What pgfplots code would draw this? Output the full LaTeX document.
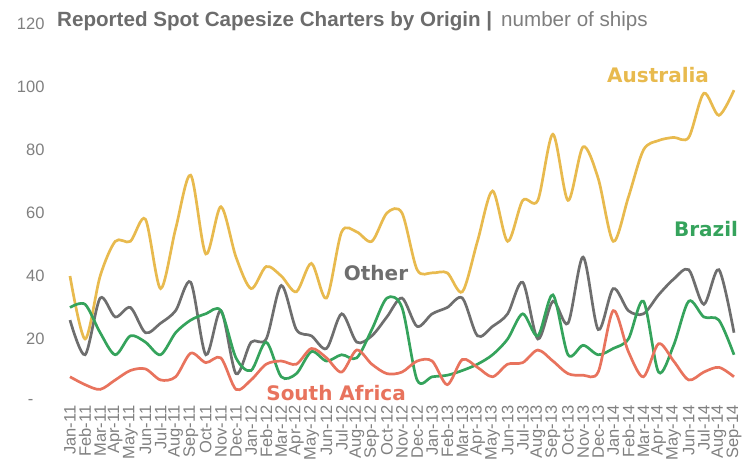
\documentclass[border=0pt]{standalone}
\usepackage{pgfplots}
\usepackage{pgfplotstable}
\pgfplotsset{compat=1.18}
\usepackage{fontspec}
\setmainfont{Liberation Sans}
\newfontfamily\serieslabelfont{DejaVu Sans}

\definecolor{aus}{HTML}{E8BA4E}
\definecolor{bra}{HTML}{35A35C}
\definecolor{oth}{HTML}{6E6E6E}
\definecolor{saf}{HTML}{E8735D}
\definecolor{titlegray}{HTML}{6C6C6C}
\definecolor{subgray}{HTML}{7E7E7E}
\definecolor{tickgray}{HTML}{808080}

% monthly counts, Jan-11 (k=0) to Sep-14 (k=44)
\pgfplotstableread{
k  aus  bra  oth  saf
0  40   30   26   8
1  20   31   15   5.5
2  40   22   33   4
3  51   15   27   7
4  51   21   30   10
5  58   19   22   10.5
6  36   15   25   7
7  55   22   29   8
8  72   26   38   15.5
9  47   28   15   12.5
10 62   29   29   14
11 46   14   9    4
12 36   10   19   7
13 43   19   20   12
14 40   8    37   13
15 35   9    23   12
16 44   16   21   17
17 33   13   17   14
18 54   15   28   9.5
19 54   14   19   16.5
20 51   23   21   12
21 60   33   27   9
22 60   30   33   9.5
23 42   7    24   13
24 41   8    28   13
25 41   8.5  30   5.5
26 35   10   33   13.5
27 51   12   21   11
28 67   15   24   8
29 51   20   28   12
30 64   28   38   12.5
31 64   21   20   16.5
32 85   34   32   13
33 64   15   25   9
34 81   18   46   8.5
35 71   15   23   9.5
36 51   17   36   29
37 65   20   29   16
38 80   32   28   8
39 83   9.5  34   18.5
40 84   18   39   13
41 84   32   42   7
42 98   27   31   9.5
43 91   26   42   11
44 99   15   22   8
}\charters

\begin{document}
\begin{tikzpicture}
\begin{axis}[
  scale only axis,
  width=664pt, height=378pt,
  xmin=0, xmax=44, ymin=0, ymax=120,
  enlargelimits=false,
  clip=false,
  axis line style={draw=none},
  major tick length=0pt,
  xtick={0,...,44},
  xticklabels={Jan-11,Feb-11,Mar-11,Apr-11,May-11,Jun-11,Jul-11,Aug-11,Sep-11,Oct-11,Nov-11,Dec-11,
    Jan-12,Feb-12,Mar-12,Apr-12,May-12,Jun-12,Jul-12,Aug-12,Sep-12,Oct-12,Nov-12,Dec-12,
    Jan-13,Feb-13,Mar-13,Apr-13,May-13,Jun-13,Jul-13,Aug-13,Sep-13,Oct-13,Nov-13,Dec-13,
    Jan-14,Feb-14,Mar-14,Apr-14,May-14,Jun-14,Jul-14,Aug-14,Sep-14},
  xticklabel style={rotate=90, anchor=east, text=tickgray,
    font=\fontsize{16.5pt}{16.5pt}\selectfont},
  ytick={0,20,...,120},
  yticklabels={{-\hspace*{11pt}},20,40,60,80,100,120},
  yticklabel style={text=tickgray, xshift=-22pt,
    font=\fontsize{16.5pt}{16.5pt}\selectfont},
  every axis plot/.append style={smooth, line width=2.7pt, no markers},
]
\addplot[aus] table[x=k, y=aus] {\charters};
\addplot[oth] table[x=k, y=oth] {\charters};
\addplot[bra] table[x=k, y=bra] {\charters};
\addplot[saf] table[x=k, y=saf] {\charters};

\node[text=aus, font=\serieslabelfont\bfseries\fontsize{20pt}{20pt}\selectfont] at (axis cs:38.97,103.8) {Australia};
\node[text=bra, font=\serieslabelfont\bfseries\fontsize{20pt}{20pt}\selectfont] at (axis cs:42.15,54.9) {Brazil};
\node[text=oth, font=\serieslabelfont\bfseries\fontsize{20pt}{20pt}\selectfont] at (axis cs:20.28,41) {Other};
\node[text=saf, font=\serieslabelfont\bfseries\fontsize{20pt}{20pt}\selectfont] at (axis cs:17.63,2.9) {South Africa};
\end{axis}
\node[anchor=base west, inner sep=0pt, font=\fontsize{20.6pt}{20.6pt}\selectfont]
  at (-13pt,375pt) {\textcolor{titlegray}{\bfseries Reported Spot Capesize Charters by Origin |}\hspace{9pt}\textcolor{subgray}{number of ships}};
\pgfresetboundingbox
\path[use as bounding box] (-70pt,-67pt) rectangle (674pt,402pt);
\end{tikzpicture}
\end{document}
